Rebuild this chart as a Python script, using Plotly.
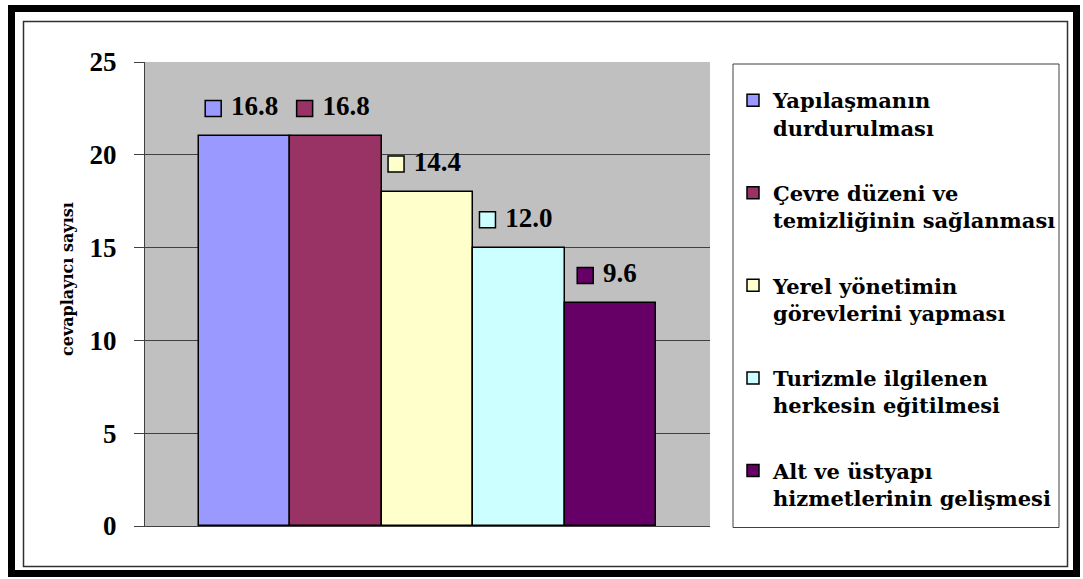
import plotly.graph_objects as go

# ---- data ----
categories = [
    "Yapılaşmanın<br>durdurulması",
    "Çevre düzeni ve<br>temizliğinin sağlanması",
    "Yerel yönetimin<br>görevlerini yapması",
    "Turizmle ilgilenen<br>herkesin eğitilmesi",
    "Alt ve üstyapı<br>hizmetlerinin gelişmesi",
]
counts = [21, 21, 18, 15, 12]
percent_labels = ["16.8", "16.8", "14.4", "12.0", "9.6"]
colors = ["#9999FF", "#993366", "#FFFFCC", "#CCFFFF", "#660066"]
y_ticks = [0, 5, 10, 15, 20, 25]
y_title = "cevaplayıcı sayısı"

W, H = 1083, 579
ML, MR, MT, MB = 145, 373, 62, 53
PW, PH = W - ML - MR, H - MT - MB

def px_x(p):
    return (p - ML) / PW

def px_y(p):
    return (H - MB - p) / PH

LEG_FONT = "DejaVu Serif"
NUM_FONT = "Liberation Serif"

fig = go.Figure()

for i, (name, v, c) in enumerate(zip(categories, counts, colors)):
    fig.add_trace(go.Bar(
        x=[i], y=[v], width=1, name=name,
        marker=dict(color=c, line=dict(color="black", width=1.5)),
        legendgroup=f"g{i}",
    ))

for i, (v, lab, c) in enumerate(zip(counts, percent_labels, colors)):
    dx = -0.344 if len(lab) > 3 else -0.275
    fig.add_trace(go.Scatter(
        x=[i + dx], y=[v + 1.5], mode="markers+text",
        marker=dict(symbol="square", size=16, color=c,
                    line=dict(color="black", width=1.5)),
        text=[" " + lab], textposition="middle right",
        textfont=dict(family=NUM_FONT, size=27, color="black", weight="bold"),
        showlegend=False, hoverinfo="skip", cliponaxis=False,
    ))

fig.update_layout(
    width=W, height=H, autosize=False,
    margin=dict(l=ML, r=MR, t=MT, b=MB, pad=0),
    paper_bgcolor="white", plot_bgcolor="#C0C0C0",
    barmode="overlay", bargap=0,
    font=dict(family=LEG_FONT, color="black"),
    legend=dict(
        x=px_x(733), y=px_y(80), xanchor="left", yanchor="top",
        bgcolor="rgba(0,0,0,0)", borderwidth=0,
        font=dict(family=LEG_FONT, size=21, color="black", weight="bold"),
        valign="top", tracegroupgap=35,
    ),
    xaxis=dict(range=[-1.09, 5.09], showticklabels=False, ticks="",
               showgrid=False, zeroline=False, showline=True,
               linecolor="#404040", linewidth=1, fixedrange=True),
    yaxis=dict(range=[0, 25], tickvals=y_ticks, ticks="outside", ticklen=10,
               tickcolor="#404040", showline=True, linecolor="#404040",
               linewidth=1, showgrid=True, gridcolor="#404040", gridwidth=1,
               zeroline=False, ticklabelstandoff=12,
               tickfont=dict(family=NUM_FONT, size=27, color="black", weight="bold")),
    annotations=[
        dict(text=y_title, xref="paper", yref="paper",
             x=px_x(67), y=px_y(279), xanchor="center", yanchor="middle",
             textangle=-90, showarrow=False,
             font=dict(family=LEG_FONT, size=16, color="black", weight="bold")),
    ],
    shapes=[
        # legend box
        dict(type="rect", xref="paper", yref="paper",
             x0=px_x(733), x1=px_x(1059), y0=px_y(64), y1=px_y(527.5),
             line=dict(color="#404040", width=1), fillcolor="rgba(0,0,0,0)",
             layer="above"),
        # outer thick frame
        dict(type="rect", xref="paper", yref="paper",
             x0=px_x(11.5), x1=px_x(1076.5), y0=px_y(8.5), y1=px_y(573.5),
             line=dict(color="black", width=7), layer="above"),
        # inner thin frame
        dict(type="rect", xref="paper", yref="paper",
             x0=px_x(23.5), x1=px_x(1067.5), y0=px_y(21.5), y1=px_y(566.5),
             line=dict(color="#303030", width=1.5), layer="above"),
    ],
)

fig.write_html("out.html", config={"displayModeBar": False},
               post_script="document.body.style.margin='0';document.body.style.padding='0';")
